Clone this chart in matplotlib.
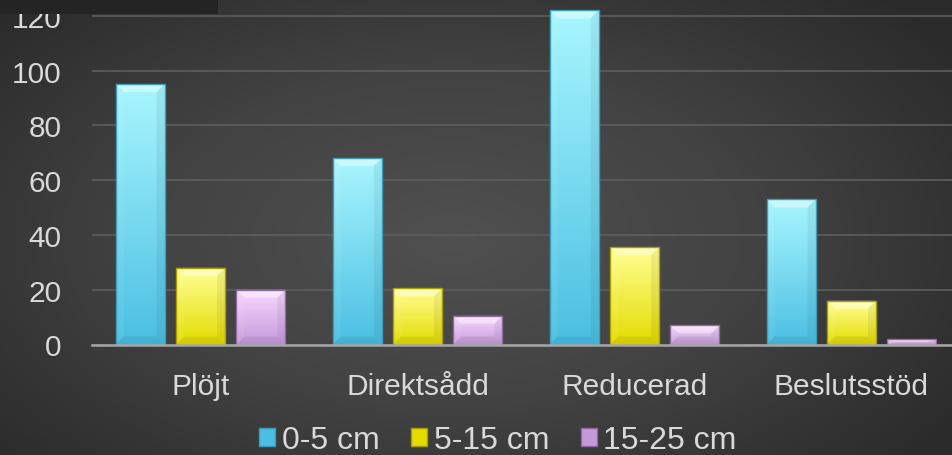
import numpy as np
import matplotlib.pyplot as plt
from matplotlib.patches import Rectangle, Polygon
from matplotlib.colors import LinearSegmentedColormap

categories = ['Plöjt', 'Direktsådd', 'Reducerad', 'Beslutsstöd']
depth_0_5 = [95, 68, 122, 53]
depth_5_15 = [28, 20.5, 35.5, 16]
depth_15_25 = [20, 10.5, 7, 2]
series_labels = ['0-5 cm', '5-15 cm', '15-25 cm']
yticks = [0, 20, 40, 60, 80, 100, 120]

# (top colour, bottom colour, edge colour) for each series
series_colors = [('#a8f6fe', '#4bbfe2', '#3a9cb8'),
                 ('#ffff94', '#e4dc00', '#a89e00'),
                 ('#f6d8ff', '#c69ada', '#8e6a9e')]

plt.rcParams['font.family'] = ['Liberation Sans', 'DejaVu Sans']
text_color = '#d9d9d9'

fig = plt.figure(figsize=(9.52, 4.56), dpi=100)

# dark radial background
bg = fig.add_axes([0, 0, 1, 1], zorder=-10)
yy, xx = np.mgrid[-1:1:228j, -1:1:476j]
r = np.sqrt(((xx + 0.05) * 0.8) ** 2 + ((yy - 0.05) * 0.7) ** 2)
bg_cmap = LinearSegmentedColormap.from_list('bg', ['#505050', '#424242', '#2a2a2a'])
bg.imshow(r, cmap=bg_cmap, aspect='auto', extent=[0, 1, 0, 1], vmin=0, vmax=1.05)
bg.axis('off')

ax = fig.add_axes([92 / 952, 110.5 / 456, 868 / 952, 345.5 / 456])
ax.set_facecolor('none')
ax.set_xlim(-0.5, len(categories) - 0.5)
ax.set_ylim(0, 126.1)

x = np.arange(len(categories))
offsets = [-0.278, 0, 0.278]
width = 0.226

# pixel size in data units, for the bevel
px_x = 1 / 217
px_y = 1 / 2.74


def gradient_bar(xc, h, top, bottom, edge):
    left = xc - width / 2
    rect = Rectangle((left, 0), width, h, facecolor='none', edgecolor=edge,
                     linewidth=1.0, zorder=3)
    ax.add_patch(rect)
    cmap = LinearSegmentedColormap.from_list('g', [bottom, top])
    grad = np.linspace(0, 1, 100).reshape(-1, 1)
    im = ax.imshow(grad, cmap=cmap, aspect='auto', origin='lower',
                   extent=[left, left + width, 0, h], zorder=2)
    im.set_clip_path(rect)
    bx = 8 * px_x
    by = min(8 * px_y, h / 2)
    # top bevel (light)
    ax.add_patch(Polygon([(left, h), (left + width, h), (left + width - bx, h - by),
                          (left + bx, h - by)], closed=True, facecolor='white',
                         alpha=0.4, linewidth=0, zorder=2.5))
    # side bevels
    ax.add_patch(Polygon([(left, 0), (left + bx, by), (left + bx, h - by), (left, h)],
                         closed=True, facecolor='white', alpha=0.06, linewidth=0, zorder=2.5))
    ax.add_patch(Polygon([(left + width, 0), (left + width - bx, by),
                          (left + width - bx, h - by), (left + width, h)],
                         closed=True, facecolor='black', alpha=0.06, linewidth=0, zorder=2.5))
    # bottom bevel (dark)
    ax.add_patch(Polygon([(left, 0), (left + width, 0), (left + width - bx, by),
                          (left + bx, by)], closed=True, facecolor='black',
                         alpha=0.07, linewidth=0, zorder=2.5))


for values, off, (top, bottom, edge) in zip([depth_0_5, depth_5_15, depth_15_25],
                                            offsets, series_colors):
    for xi, v in zip(x, values):
        gradient_bar(xi + off, v, top, bottom, edge)

ax.set_yticks(yticks)
ax.set_xticks(x)
ax.set_xticklabels(categories)
ax.yaxis.grid(True, color='#5e5e5e', linewidth=1.2, zorder=1)
ax.set_axisbelow(True)
ax.tick_params(axis='x', length=0, pad=20, labelsize=21.5, labelcolor=text_color)
ax.tick_params(axis='y', length=0, pad=22, labelsize=21.5, labelcolor=text_color)
for s in ['top', 'right', 'left']:
    ax.spines[s].set_visible(False)
ax.spines['bottom'].set_color('#a6a6a6')
ax.spines['bottom'].set_linewidth(1.8)
ax.spines['bottom'].set_zorder(4)

handles = [Rectangle((0, 0), 1, 1, facecolor=bottom, edgecolor=edge, linewidth=1)
           for top, bottom, edge in series_colors]
leg = fig.legend(handles, series_labels, loc='center', bbox_to_anchor=(498 / 952, 15 / 456),
                 ncol=3, frameon=False, fontsize=23, handlelength=0.5,
                 handleheight=0.5, handletextpad=0.2, columnspacing=1.0,
                 borderpad=0, borderaxespad=0)
for t in leg.get_texts():
    t.set_color(text_color)

# dark title box cut off at the top-left corner
fig.add_artist(Rectangle((0, 441 / 456), 218 / 952, 15 / 456, transform=fig.transFigure,
                         facecolor='#242424', edgecolor='none', zorder=10))

fig.savefig('out.png', dpi=100)
